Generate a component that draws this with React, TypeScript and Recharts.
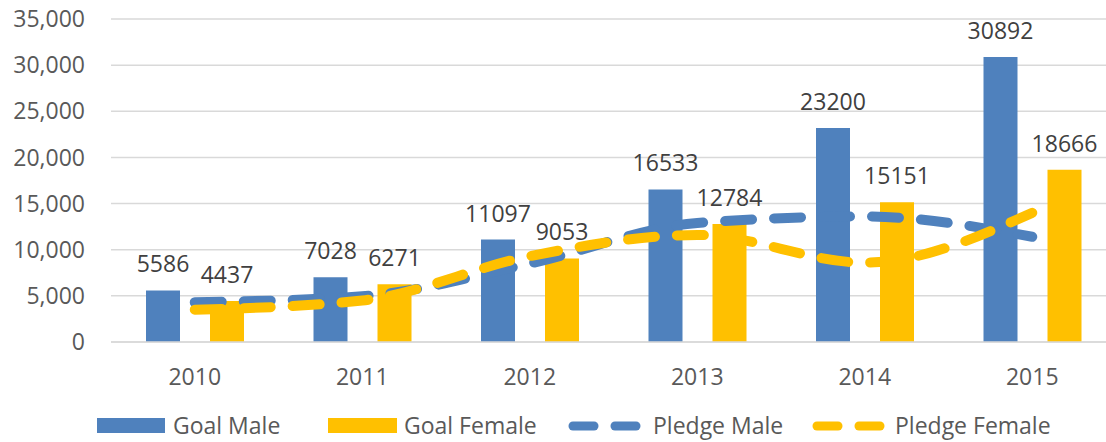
import { ComposedChart, Bar, Line, XAxis, YAxis, CartesianGrid, Legend, LabelList } from 'recharts'

const years = ['2010', '2011', '2012', '2013', '2014', '2015']
const goalMale = [5586, 7028, 11097, 16533, 23200, 30892]
const goalFemale = [4437, 6271, 9053, 12784, 15151, 18666]
const pledgeMale = [4300, 4950, 8500, 12900, 13600, 11400]
const pledgeFemale = [3500, 4500, 9300, 11600, 8600, 14000]
const yTicks = [0, 5000, 10000, 15000, 20000, 25000, 30000, 35000]

const data = years.map((y, i) => ({
  year: y,
  goalMale: goalMale[i],
  goalFemale: goalFemale[i],
  pledgeMale: pledgeMale[i],
  pledgeFemale: pledgeFemale[i],
}))

const BLUE = '#4F81BD'
const GOLD = '#FFC000'
const FONT = '"Open Sans", sans-serif'

const legendText = { position: 'absolute' as const, top: 8, fontSize: 23, color: '#595959', fontFamily: FONT, lineHeight: '30px', whiteSpace: 'nowrap' as const }

function DashIcon({ left, color }: { left: number; color: string }) {
  return (
    <svg style={{ position: 'absolute', left, top: 18 }} width={76} height={12}>
      <line x1={5} y1={6} x2={26} y2={6} stroke={color} strokeWidth={9} strokeLinecap="round" />
      <line x1={47} y1={6} x2={68} y2={6} stroke={color} strokeWidth={9} strokeLinecap="round" />
    </svg>
  )
}

function ChartLegend() {
  return (
    <div style={{ position: 'relative', width: 1106, height: 40 }}>
      <div style={{ position: 'absolute', left: 97, top: 16, width: 68, height: 15, background: BLUE }} />
      <span style={{ ...legendText, left: 173 }}>Goal Male</span>
      <div style={{ position: 'absolute', left: 328, top: 16, width: 69, height: 15, background: GOLD }} />
      <span style={{ ...legendText, left: 404 }}>Goal Female</span>
      <DashIcon left={568} color={BLUE} />
      <span style={{ ...legendText, left: 653 }}>Pledge Male</span>
      <DashIcon left={812} color={GOLD} />
      <span style={{ ...legendText, left: 895 }}>Pledge Female</span>
    </div>
  )
}

export default function App() {
  return (
    <div style={{ position: 'absolute', left: 0, top: 0, width: 1106, height: 442, overflow: 'hidden', background: '#fff' }}>
      <ComposedChart
        width={1116}
        height={442}
        data={data}
        margin={{ top: 19, right: 0, left: 0, bottom: 0 }}
        barSize={34}
        barGap={30}
      >
        <CartesianGrid vertical={false} stroke="#d9d9d9" strokeWidth={1.5} />
        <XAxis
          dataKey="year"
          height={60}
          axisLine={{ stroke: '#d9d9d9', strokeWidth: 1.5 }}
          tickLine={false}
          tickMargin={21}
          tick={{ fontSize: 23, fill: '#595959', fontFamily: FONT }}
        />
        <YAxis
          width={111}
          domain={[0, 35000]}
          ticks={yTicks}
          axisLine={false}
          tickLine={false}
          tickMargin={20}
          tickFormatter={(v: number) => v.toLocaleString('en-US')}
          tick={{ fontSize: 23, fill: '#595959', fontFamily: FONT }}
        />
        <Legend verticalAlign="bottom" height={40} content={() => <ChartLegend />} wrapperStyle={{ left: 0, width: 1106 }} />
        <Bar dataKey="goalMale" name="Goal Male" fill={BLUE} isAnimationActive={false}>
          <LabelList dataKey="goalMale" position="top" offset={18} fill="#404040" fontSize={23} fontFamily={FONT} />
        </Bar>
        <Bar dataKey="goalFemale" name="Goal Female" fill={GOLD} isAnimationActive={false}>
          <LabelList dataKey="goalFemale" position="top" offset={18} fill="#404040" fontSize={23} fontFamily={FONT} />
        </Bar>
        <Line
          type="monotone"
          dataKey="pledgeMale"
          name="Pledge Male"
          stroke={BLUE}
          strokeWidth={10}
          strokeDasharray="27 22"
          strokeLinecap="round"
          dot={false}
          activeDot={false}
          isAnimationActive={false}
        />
        <Line
          type="monotone"
          dataKey="pledgeFemale"
          name="Pledge Female"
          stroke={GOLD}
          strokeWidth={10}
          strokeDasharray="27 22"
          strokeLinecap="round"
          dot={false}
          activeDot={false}
          isAnimationActive={false}
        />
      </ComposedChart>
    </div>
  )
}
